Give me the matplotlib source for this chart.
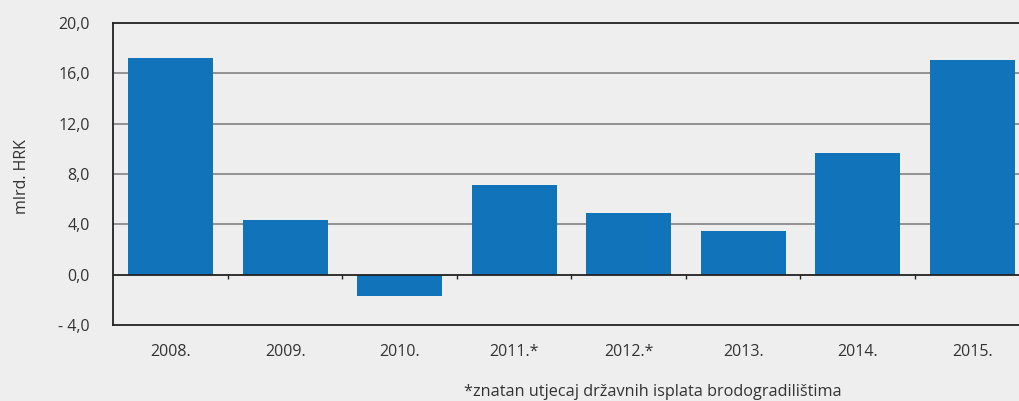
import numpy as np
import matplotlib.pyplot as plt

years = ["2008.", "2009.", "2010.", "2011.*", "2012.*", "2013.", "2014.", "2015."]
values = [17.25, 4.37, -1.67, 7.15, 4.93, 3.5, 9.7, 17.09]
yticks = [-4, 0, 4, 8, 12, 16, 20]
ytick_labels = ["- 4,0", "0,0", "4,0", "8,0", "12,0", "16,0", "20,0"]
footnote = "*znatan utjecaj državnih isplata brodogradilištima"

bg = "#eeeeee"
bar_color = "#1173ba"
text_color = "#333333"

plt.rcParams["font.family"] = ["Open Sans", "DejaVu Sans"]

fig = plt.figure(figsize=(10.2, 4.01), dpi=100, facecolor=bg)
ax = fig.add_axes([113.5 / 1020, 76 / 401, 916 / 1020, 302 / 401], facecolor=bg)

x = np.arange(len(values))
ax.bar(x, values, width=0.74, color=bar_color, zorder=2)

ax.set_xlim(-0.5, len(values) - 0.5)
ax.set_ylim(-4, 20)
ax.set_yticks(yticks)
ax.set_yticklabels(ytick_labels, fontsize=11.5, color=text_color)
ax.set_xticks(x)
ax.set_xticklabels(years, fontsize=11.5, color=text_color)
ax.tick_params(axis="x", length=0, pad=14)
ax.tick_params(axis="y", length=0, pad=17)

for v in yticks[2:-1]:
    ax.axhline(v, color="#8a8a8a", lw=1.3, zorder=1)
ax.axhline(0, color="#222222", lw=1.3, zorder=3)
ax.vlines(x[:-1] + 0.5, -0.35, 0, color="#222222", lw=1, zorder=3)

for side in ["left", "top", "bottom"]:
    ax.spines[side].set_color("#222222")
    ax.spines[side].set_linewidth(1.3)
ax.spines["right"].set_visible(False)

ax.set_ylabel("mlrd. HRK", fontsize=11.5, color=text_color, va="center")
ax.yaxis.set_label_coords(-0.1, 0.49)

fig.text(653 / 1020, 1 - 392 / 401, footnote, fontsize=11.7, color=text_color,
         ha="center", va="center")

fig.savefig("out.png", dpi=100, facecolor=bg)
